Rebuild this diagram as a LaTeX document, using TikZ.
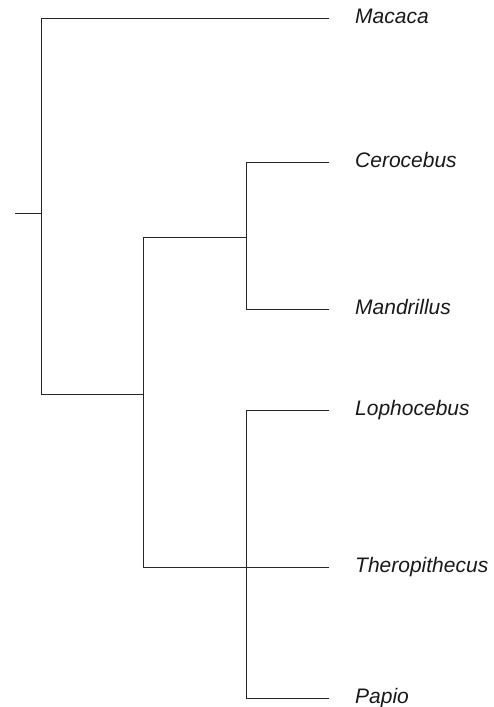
\documentclass[tikz,border=0pt]{standalone}
\usepackage{fontspec}
\setmainfont{Liberation Sans}
\begin{document}
\begin{tikzpicture}[x=1pt,y=-1pt,
  branch/.style={draw=black!85,line width=0.9pt,line cap=rect},
  taxon/.style={anchor=base west,inner sep=0pt,font=\fontsize{21}{24}\selectfont\itshape,text=black!90}]
\useasboundingbox (0,0) rectangle (494,707);
% internal coordinates
\coordinate (stub) at (15,213);
\coordinate (r) at (41.7,213);
\coordinate (rt) at (41.7,18);
\coordinate (rb) at (41.7,394);
\coordinate (a) at (143,394);
\coordinate (at) at (143,237);
\coordinate (ab) at (143,567);
\coordinate (b) at (246.7,237);
\coordinate (bt) at (246.7,162);
\coordinate (bb) at (246.7,309);
\coordinate (ct) at (246.7,410);
\coordinate (cb) at (246.7,698);
% tips
\coordinate (tMac) at (329,18);
\coordinate (tCer) at (329,162);
\coordinate (tMan) at (329,309);
\coordinate (tLop) at (329,410);
\coordinate (tThe) at (329,567);
\coordinate (tPap) at (329,698);
% labels
\node[taxon] (Mac) at (355,23.5) {Macaca};
\node[taxon] (Cer) at (355,167.5) {Cerocebus};
\node[taxon] (Man) at (355,314.5) {Mandrillus};
\node[taxon] (Lop) at (355,415.5) {Lophocebus};
\node[taxon] (The) at (355,572.5) {Theropithecus};
\node[taxon] (Pap) at (355,703.5) {Papio};
% branches
\draw[branch] (stub) -- (r);
\draw[branch] (rt) -- (rb);
\draw[branch] (rt) -- (tMac);
\draw[branch] (rb) -- (a);
\draw[branch] (at) -- (ab);
\draw[branch] (at) -- (b);
\draw[branch] (bt) -- (bb);
\draw[branch] (bt) -- (tCer);
\draw[branch] (bb) -- (tMan);
\draw[branch] (ab) -- (tThe);
\draw[branch] (ct) -- (cb);
\draw[branch] (ct) -- (tLop);
\draw[branch] (cb) -- (tPap);
\end{tikzpicture}
\end{document}
